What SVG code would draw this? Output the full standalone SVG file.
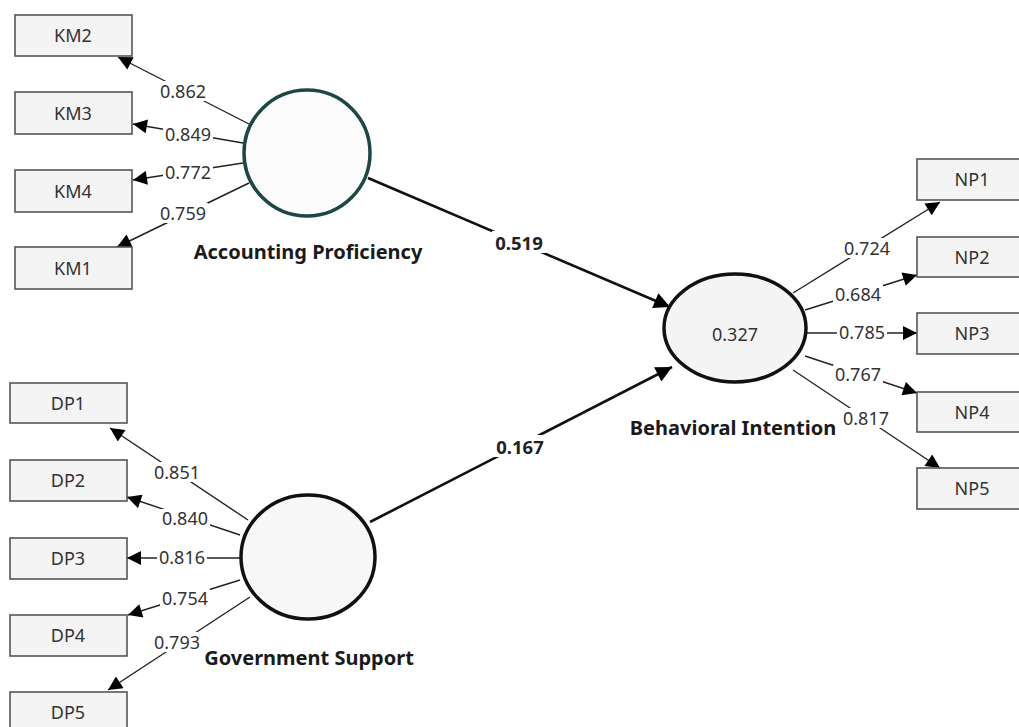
<svg xmlns="http://www.w3.org/2000/svg" width="1019" height="727" viewBox="0 0 1019 727">
<style>
.box{fill:#f4f4f4;stroke:#555;stroke-width:1.6}
.btxt{font-family:"Noto Sans","Open Sans",sans-serif;font-size:18px;fill:#333;text-anchor:middle;dominant-baseline:central}
.lv{stroke-width:3.5}
.ln{stroke:#222;stroke-width:1.4;fill:none;marker-end:url(#ah)}
.sp{stroke:#111;stroke-width:2.6;fill:none;marker-end:url(#ahb)}
.lbg{fill:#fff}
.ltxt{font-family:"Noto Sans","Open Sans",sans-serif;font-size:18px;fill:#333;text-anchor:middle;dominant-baseline:central}
.stxt{font-family:"Noto Sans","Open Sans",sans-serif;font-size:18.5px;font-weight:bold;fill:#222;text-anchor:middle;dominant-baseline:central}
.name{font-family:"Noto Sans","Open Sans",sans-serif;font-size:20px;font-weight:bold;fill:#1a1a1a;text-anchor:middle;dominant-baseline:central}
</style>
<defs>
<marker id="ah" viewBox="0 0 10 10" refX="10" refY="5" markerWidth="16" markerHeight="14" markerUnits="userSpaceOnUse" orient="auto"><path d="M0,0 L10,5 L0,10 z" fill="#000"/></marker>
<marker id="ahb" viewBox="0 0 10 10" refX="10" refY="5" markerWidth="18" markerHeight="16" markerUnits="userSpaceOnUse" orient="auto"><path d="M0,0 L10,5 L0,10 z" fill="#000"/></marker>
</defs>
<rect width="1019" height="727" fill="#fff"/>
<g id="connectors">
<line class="ln" x1="249" y1="124" x2="118" y2="57"/>
<line class="ln" x1="243" y1="143" x2="133" y2="124"/>
<line class="ln" x1="243" y1="163" x2="133" y2="180"/>
<line class="ln" x1="249" y1="183" x2="117" y2="247"/>
<line class="ln" x1="248" y1="520" x2="110" y2="428"/>
<line class="ln" x1="240" y1="535" x2="127" y2="497"/>
<line class="ln" x1="240" y1="558" x2="127" y2="558"/>
<line class="ln" x1="240" y1="580" x2="128" y2="615"/>
<line class="ln" x1="250" y1="597" x2="108" y2="690"/>
<line class="ln" x1="793" y1="293" x2="940" y2="202"/>
<line class="ln" x1="805" y1="310" x2="917" y2="275"/>
<line class="ln" x1="807" y1="333" x2="917" y2="333"/>
<line class="ln" x1="805" y1="356" x2="917" y2="393"/>
<line class="ln" x1="793" y1="370" x2="940" y2="468"/>
<line class="sp" x1="368" y1="178" x2="670" y2="307"/>
<line class="sp" x1="370" y1="522" x2="672" y2="367"/>
<g id="labels">
<rect class="lbg" x="158" y="81" width="50" height="20"/><text class="ltxt" x="183" y="91">0.862</text>
<rect class="lbg" x="163" y="125" width="50" height="18"/><text class="ltxt" x="188" y="134">0.849</text>
<rect class="lbg" x="163" y="163" width="50" height="18"/><text class="ltxt" x="188" y="172">0.772</text>
<rect class="lbg" x="158" y="203" width="50" height="20"/><text class="ltxt" x="183" y="213">0.759</text>
<rect class="lbg" x="152" y="462" width="50" height="20"/><text class="ltxt" x="177" y="472">0.851</text>
<rect class="lbg" x="160" y="509" width="50" height="18"/><text class="ltxt" x="185" y="518">0.840</text>
<rect class="lbg" x="157" y="548" width="50" height="19"/><text class="ltxt" x="182" y="557">0.816</text>
<rect class="lbg" x="160" y="589" width="50" height="18"/><text class="ltxt" x="185" y="598">0.754</text>
<rect class="lbg" x="152" y="632" width="50" height="20"/><text class="ltxt" x="177" y="642">0.793</text>
<rect class="lbg" x="842" y="238" width="50" height="20"/><text class="ltxt" x="867" y="248">0.724</text>
<rect class="lbg" x="833" y="285" width="50" height="18"/><text class="ltxt" x="858" y="294">0.684</text>
<rect class="lbg" x="837" y="323" width="50" height="19"/><text class="ltxt" x="862" y="332">0.785</text>
<rect class="lbg" x="833" y="365" width="50" height="18"/><text class="ltxt" x="858" y="374">0.767</text>
<rect class="lbg" x="841" y="408" width="50" height="20"/><text class="ltxt" x="866" y="418">0.817</text>
<rect class="lbg" x="492" y="231" width="54" height="22"/><text class="stxt" x="519" y="242">0.519</text>
<rect class="lbg" x="493" y="435" width="54" height="22"/><text class="stxt" x="520" y="446">0.167</text>
</g>
</g>
<g id="KM2"><rect class="box" x="15" y="15" width="117" height="41"/><text class="btxt" x="73" y="35">KM2</text></g>
<g id="KM3"><rect class="box" x="15" y="92" width="117" height="42"/><text class="btxt" x="73" y="113">KM3</text></g>
<g id="KM4"><rect class="box" x="15" y="170" width="117" height="42"/><text class="btxt" x="73" y="191">KM4</text></g>
<g id="KM1"><rect class="box" x="15" y="247" width="117" height="42"/><text class="btxt" x="73" y="268">KM1</text></g>
<g id="DP1"><rect class="box" x="10" y="383" width="117" height="40"/><text class="btxt" x="68" y="403">DP1</text></g>
<g id="DP2"><rect class="box" x="10" y="460" width="117" height="41"/><text class="btxt" x="68" y="480">DP2</text></g>
<g id="DP3"><rect class="box" x="10" y="538" width="117" height="41"/><text class="btxt" x="68" y="558">DP3</text></g>
<g id="DP4"><rect class="box" x="10" y="615" width="117" height="41"/><text class="btxt" x="68" y="635">DP4</text></g>
<g id="DP5"><rect class="box" x="10" y="692" width="117" height="41"/><text class="btxt" x="68" y="712">DP5</text></g>
<g id="NP1"><rect class="box" x="917" y="159" width="115" height="41"/><text class="btxt" x="972" y="179">NP1</text></g>
<g id="NP2"><rect class="box" x="917" y="237" width="115" height="40"/><text class="btxt" x="972" y="257">NP2</text></g>
<g id="NP3"><rect class="box" x="917" y="313" width="115" height="41"/><text class="btxt" x="972" y="333">NP3</text></g>
<g id="NP4"><rect class="box" x="917" y="392" width="115" height="40"/><text class="btxt" x="972" y="412">NP4</text></g>
<g id="NP5"><rect class="box" x="917" y="468" width="115" height="41"/><text class="btxt" x="972" y="488">NP5</text></g>
<g id="AP"><ellipse class="lv" cx="307" cy="153" rx="63" ry="63" fill="#fbfbfb" stroke="#1d4644"/><text class="name" x="308" y="251">Accounting Proficiency</text></g>
<g id="GS"><ellipse class="lv" cx="308" cy="557" rx="67" ry="62" fill="#f7f7f7" stroke="#111"/><text class="name" x="309" y="657">Government Support</text></g>
<g id="BI"><ellipse class="lv" cx="735" cy="328" rx="71" ry="54" fill="#f4f4f4" stroke="#111"/><text class="btxt" x="735" y="334">0.327</text><text class="name" x="733" y="427">Behavioral Intention</text></g>
</svg>
